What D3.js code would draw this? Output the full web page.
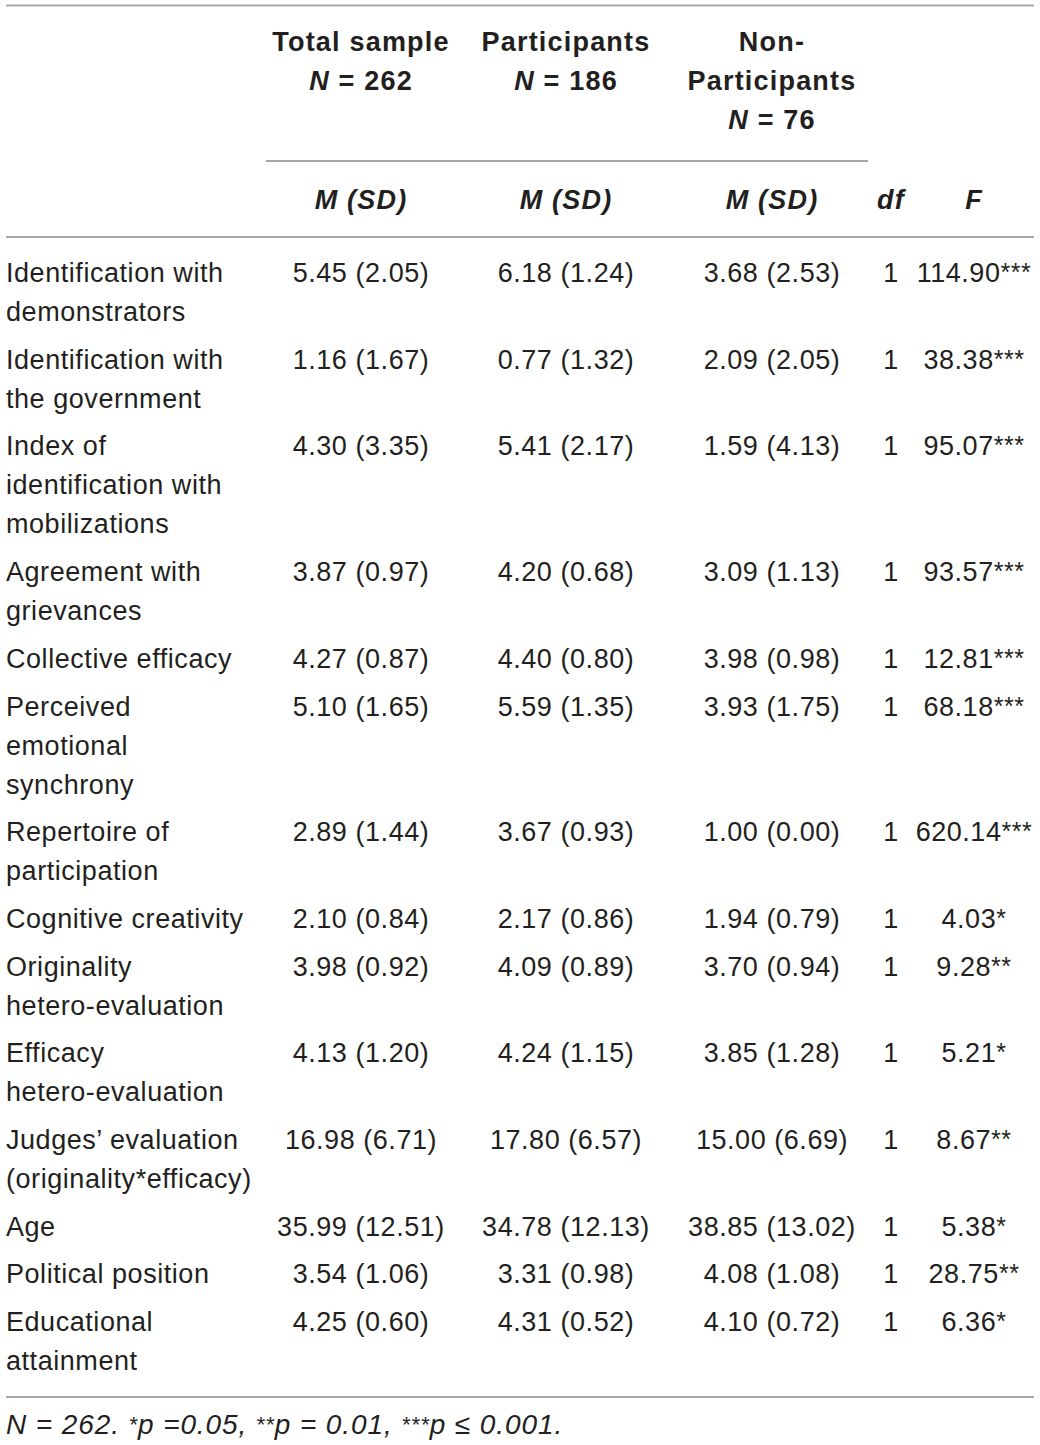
<!DOCTYPE html>
<html>
<head>
<meta charset="utf-8">
<script src="https://cdn.jsdelivr.net/npm/d3@7"></script>
<style>
  html, body { margin: 0; padding: 0; background: #fff; }
  svg text { font-family: "Liberation Sans", Arial, sans-serif; fill: #231f20; }
</style>
</head>
<body>
<div id="table"></div>
<script>
// Table content
var labels = [
  ["Identification with", "demonstrators"],
  ["Identification with", "the government"],
  ["Index of", "identification with", "mobilizations"],
  ["Agreement with", "grievances"],
  ["Collective efficacy"],
  ["Perceived", "emotional", "synchrony"],
  ["Repertoire of", "participation"],
  ["Cognitive creativity"],
  ["Originality", "hetero-evaluation"],
  ["Efficacy", "hetero-evaluation"],
  ["Judges\u2019 evaluation", "(originality*efficacy)"],
  ["Age"],
  ["Political position"],
  ["Educational", "attainment"]
];
var totalSample = ["5.45 (2.05)", "1.16 (1.67)", "4.30 (3.35)", "3.87 (0.97)", "4.27 (0.87)", "5.10 (1.65)", "2.89 (1.44)",
  "2.10 (0.84)", "3.98 (0.92)", "4.13 (1.20)", "16.98 (6.71)", "35.99 (12.51)", "3.54 (1.06)", "4.25 (0.60)"];
var participants = ["6.18 (1.24)", "0.77 (1.32)", "5.41 (2.17)", "4.20 (0.68)", "4.40 (0.80)", "5.59 (1.35)", "3.67 (0.93)",
  "2.17 (0.86)", "4.09 (0.89)", "4.24 (1.15)", "17.80 (6.57)", "34.78 (12.13)", "3.31 (0.98)", "4.31 (0.52)"];
var nonParticipants = ["3.68 (2.53)", "2.09 (2.05)", "1.59 (4.13)", "3.09 (1.13)", "3.98 (0.98)", "3.93 (1.75)", "1.00 (0.00)",
  "1.94 (0.79)", "3.70 (0.94)", "3.85 (1.28)", "15.00 (6.69)", "38.85 (13.02)", "4.08 (1.08)", "4.10 (0.72)"];
var dfValues = [1, 1, 1, 1, 1, 1, 1, 1, 1, 1, 1, 1, 1, 1];
var fValues = ["114.90", "38.38", "95.07", "93.57", "12.81", "68.18", "620.14", "4.03", "9.28", "5.21", "8.67", "5.38", "28.75", "6.36"];
var fStars = ["***", "***", "***", "***", "***", "***", "***", "*", "**", "*", "**", "*", "**", "*"];

var columnKeys = ["label", "total", "part", "non", "df", "F"];
var groupHeaders = [
  { col: "total", lines: [["Total sample"], ["N", " = 262"]] },
  { col: "part", lines: [["Participants"], ["N", " = 186"]] },
  { col: "non", lines: [["Non-"], ["Participants"], ["N", " = 76"]] }
];
var subHeaders = [
  { col: "total", text: "M (SD)" },
  { col: "part", text: "M (SD)" },
  { col: "non", text: "M (SD)" },
  { col: "df", text: "df" },
  { col: "F", text: "F" }
];

var W = 1040, H = 1445;
var fontSize = 27, lineH = 39, rowGap = 8.7;
var bodySpacing = "0.55px", boldSpacing = "1.2px";
var ruleColor = "#a7a7a7";

var svg = d3.select("#table").append("svg").attr("width", W).attr("height", H);

// column centres
var colX = d3.scaleOrdinal().domain(columnKeys).range([6, 361, 566, 772, 891, 974]);

// row positions from line counts
var rowTop = [];
var acc = 0;
labels.forEach(function(l) { rowTop.push(acc); acc += l.length * lineH + rowGap; });
var rowY = d3.scaleLinear().domain([0, acc]).range([282, 282 + acc]);

function rule(x1, x2, y) {
  svg.append("line").attr("x1", x1).attr("x2", x2).attr("y1", y).attr("y2", y)
    .attr("stroke", ruleColor).attr("stroke-width", 2);
}

rule(6, 1034, 5.5);
rule(266, 868, 161);
rule(6, 1034, 237);
rule(6, 1034, 1397);

// group headers
groupHeaders.forEach(function(g) {
  g.lines.forEach(function(parts, li) {
    var t = svg.append("text").attr("x", colX(g.col)).attr("y", 51 + li * lineH)
      .attr("text-anchor", "middle").style("font-size", fontSize + "px")
      .style("font-weight", "bold").style("letter-spacing", boldSpacing);
    if (parts.length === 1) {
      t.text(parts[0]);
    } else {
      t.append("tspan").style("font-style", "italic").text(parts[0]);
      t.append("tspan").text(parts[1]);
    }
  });
});

svg.selectAll(".subhead").data(subHeaders).enter().append("text").attr("class", "subhead")
  .attr("x", function(d) { return colX(d.col); }).attr("y", 209)
  .attr("text-anchor", "middle").style("font-size", fontSize + "px")
  .style("font-weight", "bold").style("font-style", "italic").style("letter-spacing", boldSpacing)
  .text(function(d) { return d.text; });

// body rows
var rows = svg.selectAll(".row").data(labels).enter().append("g").attr("class", "row")
  .attr("transform", function(d, i) { return "translate(0," + rowY(rowTop[i]) + ")"; });

rows.each(function(d, i) {
  var g = d3.select(this);
  g.selectAll(".lab").data(d).enter().append("text").attr("class", "lab")
    .attr("x", colX("label")).attr("y", function(s, k) { return k * lineH; })
    .style("font-size", fontSize + "px").style("letter-spacing", bodySpacing)
    .text(function(s) { return s; });

  [["total", totalSample[i]], ["part", participants[i]], ["non", nonParticipants[i]], ["df", dfValues[i]]].forEach(function(c) {
    g.append("text").attr("x", colX(c[0])).attr("y", 0).attr("text-anchor", "middle")
      .style("font-size", fontSize + "px").style("letter-spacing", bodySpacing).text(c[1]);
  });

  var f = g.append("text").attr("x", colX("F")).attr("y", 0).attr("text-anchor", "middle")
    .style("font-size", fontSize + "px").style("letter-spacing", bodySpacing);
  f.append("tspan").text(fValues[i]);
  f.append("tspan").attr("dy", -1).style("font-size", "25px").text(fStars[i]);
});

// footnote
var note = svg.append("text").attr("x", 6).attr("y", 1434)
  .style("font-size", "28px").style("font-style", "italic").style("letter-spacing", "0.9px");
note.append("tspan").text("N = 262. ");
note.append("tspan").attr("dy", -2).style("font-size", "22px").text("*");
note.append("tspan").attr("dy", 2).text("p =0.05, ");
note.append("tspan").attr("dy", -2).style("font-size", "22px").text("**");
note.append("tspan").attr("dy", 2).text("p = 0.01, ");
note.append("tspan").attr("dy", -2).style("font-size", "22px").text("***");
note.append("tspan").attr("dy", 2).text("p \u2264 0.001.");
</script>
</body>
</html>
